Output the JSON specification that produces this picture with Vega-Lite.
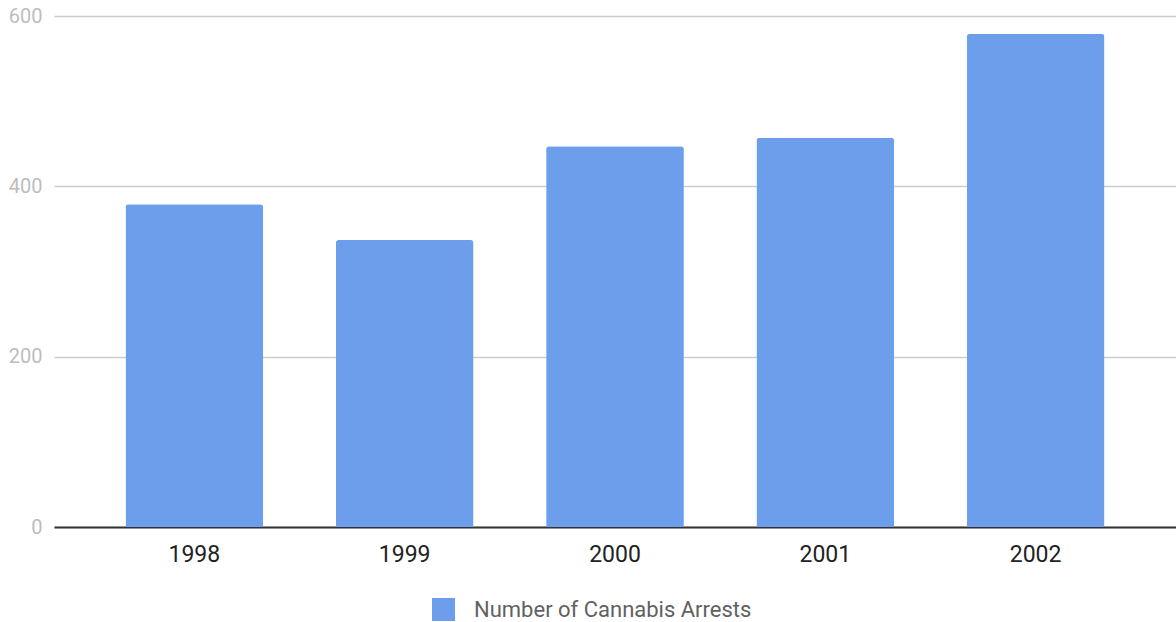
{
  "$schema": "https://vega.github.io/schema/vega-lite/v6.json",
  "width": 1122,
  "height": 511,
  "autosize": {"type": "none"},
  "padding": {"left": 54, "top": 16, "right": 0, "bottom": 95},
  "background": "white",
  "config": {
    "view": {"stroke": null},
    "font": "Roboto"
  },
  "data": {
    "values": [
      {"year": "1998", "arrests": 379, "series": "Number of Cannabis Arrests"},
      {"year": "1999", "arrests": 337, "series": "Number of Cannabis Arrests"},
      {"year": "2000", "arrests": 447, "series": "Number of Cannabis Arrests"},
      {"year": "2001", "arrests": 457, "series": "Number of Cannabis Arrests"},
      {"year": "2002", "arrests": 579, "series": "Number of Cannabis Arrests"}
    ]
  },
  "mark": {"type": "bar", "cornerRadiusTopLeft": 3, "cornerRadiusTopRight": 3},
  "encoding": {
    "x": {
      "field": "year",
      "type": "nominal",
      "scale": {"paddingInner": 0.345, "paddingOuter": 0.34},
      "axis": {
        "title": null,
        "labelAngle": 0,
        "labelFont": "Roboto",
        "labelFontSize": 23,
        "labelColor": "#222222",
        "labelPadding": 16,
        "ticks": false,
        "domainColor": "#333333",
        "domainWidth": 2,
        "grid": false
      }
    },
    "y": {
      "field": "arrests",
      "type": "quantitative",
      "scale": {"domain": [0, 600]},
      "axis": {
        "title": null,
        "values": [0, 200, 400, 600],
        "labelFont": "Roboto",
        "labelFontSize": 20,
        "labelColor": "#bdbdbd",
        "labelPadding": 12,
        "ticks": false,
        "domain": false,
        "gridColor": "#cccccc",
        "gridWidth": 1.5
      }
    },
    "color": {
      "field": "series",
      "type": "nominal",
      "scale": {"range": ["#6d9eeb"]},
      "legend": {
        "title": null,
        "orient": "none",
        "legendX": 378,
        "legendY": 582,
        "symbolType": "square",
        "symbolSize": 529,
        "symbolStrokeWidth": 0,
        "symbolOpacity": 1,
        "labelFont": "Roboto",
        "labelFontSize": 22,
        "labelColor": "#616161",
        "labelOffset": 19,
        "labelLimit": 0,
        "padding": 0
      }
    }
  }
}
